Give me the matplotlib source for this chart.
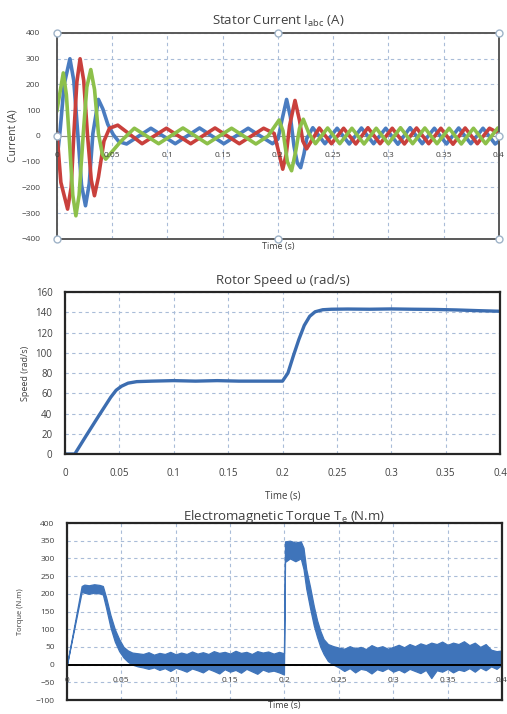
import matplotlib.pyplot as plt
import numpy as np

plt.rcParams['font.family'] = ['Open Sans', 'DejaVu Sans']
plt.rcParams['mathtext.default'] = 'regular'

# ---- data ----
time_ticks = [0, 0.05, 0.1, 0.15, 0.2, 0.25, 0.3, 0.35, 0.4]
time_labels = ['0', '0.05', '0.1', '0.15', '0.2', '0.25', '0.3', '0.35', '0.4']

# stator currents, phase a (blue)
ia_t = [0.000, 0.003, 0.0065, 0.0117, 0.0152, 0.0188, 0.0222, 0.0258, 0.0292, 0.0325,
        0.0375, 0.0415, 0.046, 0.051, 0.056, 0.063, 0.085, 0.107, 0.129, 0.151, 0.173,
        0.195, 0.200, 0.2035, 0.2078, 0.2112, 0.2145, 0.2175, 0.2205, 0.2235, 0.226,
        0.2315, 0.2425, 0.2535, 0.2645, 0.2755, 0.2865, 0.2975, 0.3085, 0.3195, 0.3305,
        0.3415, 0.3525, 0.3635, 0.3745, 0.3855, 0.3965, 0.400]
ia = [-95, 30, 200, 300, 215, 10, -190, -271, -185, 10,
      142, 105, 45, 5, -22, -31, 30, -30, 31, -30, 30,
      -30, -12, 60, 142, 75, -40, -105, -123, -70, -10,
      32, -30, 30, -31, 31, -30, 30, -32, 32, -30,
      30, -31, 31, -30, 30, -31, -20]

# phase b (red)
ib_t = [0.000, 0.0035, 0.0096, 0.0128, 0.0153, 0.018, 0.0209, 0.0242, 0.0275, 0.031,
        0.0339, 0.0375, 0.0425, 0.0475, 0.055, 0.077, 0.099, 0.121, 0.143, 0.165, 0.187,
        0.1965, 0.2005, 0.2043, 0.2075, 0.2105, 0.2154, 0.2195, 0.2225, 0.2259,
        0.2374, 0.2484, 0.2594, 0.2704, 0.2814, 0.2924, 0.3034, 0.3144, 0.3254, 0.3364,
        0.3474, 0.3584, 0.3694, 0.3804, 0.3914, 0.400]
ib = [10, -180, -284, -200, 10, 210, 300, 215, 10, -170,
      -232, -160, -20, 30, 42, -30, 30, -30, 31, -30, 30,
      10, -60, -129, -70, 40, 138, 60, -20, -50,
      31, -30, 30, -31, 32, -30, 30, -31, 31, -30,
      30, -32, 31, -30, 30, 10]

# phase c (green)
ic_t = [0.000, 0.0057, 0.0085, 0.0114, 0.0143, 0.0171, 0.020, 0.0238, 0.027, 0.0306,
        0.034, 0.0375, 0.041, 0.0441, 0.050, 0.058, 0.070, 0.092, 0.114, 0.136, 0.158,
        0.180, 0.191, 0.201, 0.2045, 0.2085, 0.2123, 0.216, 0.2195, 0.2229, 0.228,
        0.2339, 0.2449, 0.2559, 0.2669, 0.2779, 0.2889, 0.2999, 0.3109, 0.3219, 0.3329,
        0.3439, 0.3549, 0.3659, 0.3769, 0.3879, 0.3989, 0.400]
ic = [100, 245, 160, -30, -230, -310, -230, 10, 190, 258,
      180, 10, -70, -90, -60, -20, 30, -30, 31, -30, 30,
      -31, 0, 62, 20, -100, -135, -60, 30, 65, 10,
      -30, 31, -30, 30, -31, 30, -30, 32, -30, 31,
      -30, 30, -31, 30, -30, 31, 28]

# rotor speed
speed_t = [0, 0.009, 0.02, 0.03, 0.036, 0.042, 0.047, 0.052, 0.058, 0.066, 0.08, 0.1,
           0.12, 0.14, 0.16, 0.18, 0.2, 0.205, 0.21, 0.215, 0.22, 0.225, 0.23, 0.237,
           0.245, 0.26, 0.28, 0.3, 0.32, 0.34, 0.36, 0.38, 0.4]
speed = [0, 0, 19, 36, 46, 56, 63, 67, 70, 71.5, 72, 72.5,
         72, 72.5, 72, 72, 72, 80, 97, 113, 127, 136, 140.5, 142.5,
         143, 143.2, 143, 143.3, 143, 142.8, 142.3, 141.6, 141]

# electromagnetic torque, drawn as the band between its lower and upper envelope
tq_t = [0, 0.0135, 0.016, 0.02, 0.025, 0.03, 0.033, 0.036, 0.040, 0.044, 0.048, 0.052,
        0.056, 0.060, 0.065, 0.070, 0.075, 0.080, 0.085, 0.090, 0.095, 0.100, 0.105,
        0.110, 0.115, 0.120, 0.125, 0.130, 0.135, 0.140, 0.145, 0.150, 0.155, 0.160,
        0.165, 0.170, 0.175, 0.180, 0.185, 0.190, 0.195, 0.1995, 0.2005, 0.205, 0.21,
        0.215, 0.2175, 0.220, 0.2235, 0.227, 0.230, 0.233, 0.236, 0.240, 0.245, 0.250,
        0.255, 0.26, 0.265, 0.27, 0.275, 0.28, 0.285, 0.29, 0.295, 0.3, 0.305, 0.31,
        0.315, 0.32, 0.325, 0.33, 0.335, 0.34, 0.345, 0.35, 0.355, 0.36, 0.365, 0.37,
        0.375, 0.38, 0.385, 0.39, 0.395, 0.4]
tq_lo = [0, 205, 203, 200, 203, 201, 198, 160, 105, 65, 38, 20,
         8, 0, -5, -8, -12, -8, -15, -10, -18, -9, -14,
         -20, -11, -16, -22, -12, -18, -25, -13, -20, -15, -23,
         -12, -19, -26, -14, -20, -17, -22, -28, 290, 300, 292,
         300, 270, 215, 160, 110, 78, 50, 30, 10, 0, -8,
         -18, -10, -22, -12, -15, -25, -13, -18, -10, -20, -14, -22,
         -12, -18, -24, -15, -38, -16, -20, -12, -22, -14, -18, -10,
         -20, -8, -16, -5, -12, 0]
tq_hi = [0, 222, 226, 224, 227, 225, 222, 190, 140, 100, 72, 50,
         40, 34, 32, 30, 35, 28, 33, 30, 36, 29, 34,
         30, 37, 31, 35, 30, 38, 33, 36, 31, 39, 33,
         36, 30, 38, 34, 37, 31, 36, 32, 348, 350, 345,
         348, 330, 270, 220, 165, 125, 95, 72, 58, 52, 48,
         45, 52, 46, 50, 44, 55, 48, 52, 45, 50, 56, 49,
         58, 52, 60, 55, 62, 58, 65, 56, 62, 58, 66, 55,
         62, 50, 58, 42, 38, 40]

blue = '#4a7cc0'
red = '#c9403c'
green = '#8dc04a'
grid_col = '#a9bcd8'
txt = '#404040'

fig = plt.figure(figsize=(5.07, 7.14), dpi=100)


def style(ax, frame_col, frame_w):
    ax.set_xlim(0, 0.4)
    ax.set_xticks(time_ticks)
    ax.grid(True, ls=(0, (3, 3)), color=grid_col, lw=0.8)
    ax.set_axisbelow(True)
    for s in ax.spines.values():
        s.set_color(frame_col)
        s.set_linewidth(frame_w)
    ax.tick_params(length=0, colors=txt)


# ---- stator current ----
ax1 = fig.add_axes([0.1124, 0.6653, 0.8718, 0.2885])
style(ax1, '#595959', 1.4)
ax1.set_ylim(-400, 400)
ax1.set_yticks([-400, -300, -200, -100, 0, 100, 200, 300, 400])
ax1.tick_params(axis='y', labelsize=6, pad=12)
ax1.tick_params(axis='x', labelbottom=False)
ax1.axhline(0, color='#8c8c8c', lw=0.8)
ax1.plot(ia_t, ia, color=blue, lw=2.6)
ax1.plot(ib_t, ib, color=red, lw=2.6)
ax1.plot(ic_t, ic, color=green, lw=2.6)
for x, lab in zip(time_ticks, time_labels):
    ax1.text(x, -75, lab, ha='center', va='center', fontsize=6, color=txt)
ax1.set_title('Stator Current I$_{abc}$ (A)', fontsize=9.5, color=txt, pad=6)
ax1.set_ylabel('Current (A)', fontsize=7.5, color=txt, labelpad=2)
ax1.set_xlabel('Time (s)', fontsize=6.5, color=txt, labelpad=2)
# selection handles of the chart
hx = [0, 0.5, 1, 0, 1, 0, 0.5, 1]
hy = [1, 1, 1, 0.5, 0.5, 0, 0, 0]
ax1.plot(hx, hy, 'o', ms=5, mfc='white', mec='#9fb3c8', mew=1.0,
         transform=ax1.transAxes, clip_on=False, zorder=10)

# ---- rotor speed ----
ax2 = fig.add_axes([0.1282, 0.3641, 0.858, 0.2269])
style(ax2, '#262626', 1.6)
ax2.set_ylim(0, 160)
ax2.set_yticks([0, 20, 40, 60, 80, 100, 120, 140, 160])
ax2.set_xticklabels(time_labels)
ax2.tick_params(labelsize=7)
ax2.tick_params(axis='y', pad=9)
ax2.tick_params(axis='x', pad=10)
ax2.plot(speed_t, speed, color='#3c6db0', lw=2.4)
ax2.set_title('Rotor Speed \u03c9 (rad/s)', fontsize=9.5, color=txt, pad=6)
ax2.set_ylabel('Speed (rad/s)', fontsize=6.5, color=txt, labelpad=4)
ax2.set_xlabel('Time (s)', fontsize=7, color=txt, labelpad=8)

# ---- electromagnetic torque ----
ax3 = fig.add_axes([0.1321, 0.0196, 0.858, 0.2479])
style(ax3, '#262626', 1.6)
ax3.set_ylim(-100, 400)
ax3.set_yticks([-100, -50, 0, 50, 100, 150, 200, 250, 300, 350, 400])
ax3.tick_params(axis='y', labelsize=6, pad=9)
ax3.tick_params(axis='x', labelbottom=False)
ax3.fill_between(tq_t, tq_lo, tq_hi, color='#3f74ba', lw=0.9, edgecolor='#3f74ba')
ax3.axhline(0, color='black', lw=1.4)
for x, lab in zip(time_ticks, time_labels):
    ax3.text(x, -45, lab, ha='center', va='center', fontsize=6, color=txt)
ax3.set_title('Electromagnetic Torque T$_e$ (N.m)', fontsize=9.5, color=txt, pad=2)
ax3.set_ylabel('Torque (N.m)', fontsize=5.5, color=txt, labelpad=8)
ax3.set_xlabel('Time (s)', fontsize=6.5, color=txt, labelpad=1)

fig.savefig('out.png', dpi=100)
